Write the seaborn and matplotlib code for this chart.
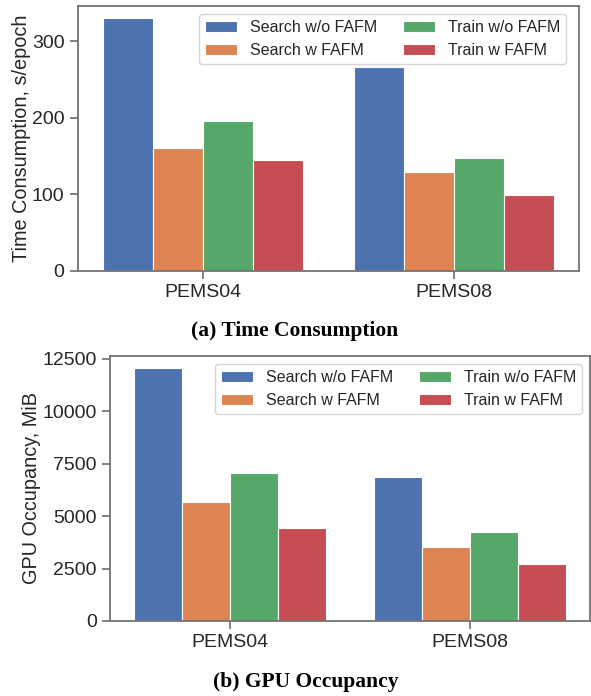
#!/usr/bin/env python3

import matplotlib.pyplot as plt
import matplotlib.ticker as ticker
import pandas as pd
import seaborn as sns

datasets = ["PEMS04", "PEMS08"]
methods = ["Search w/o FAFM", "Search w FAFM", "Train w/o FAFM", "Train w FAFM"]

# values per method, in dataset order
time_search_wo = [330, 267]
time_search_w = [161, 129]
time_train_wo = [196, 147]
time_train_w = [145, 99]

gpu_search_wo = [12050, 6850]
gpu_search_w = [5650, 3550]
gpu_train_wo = [7050, 4230]
gpu_train_w = [4420, 2720]


def long_frame(series: list[list[float]]) -> pd.DataFrame:
    rows = []
    for method, vals in zip(methods, series):
        for ds, v in zip(datasets, vals):
            rows.append({"dataset": ds, "method": method, "value": v})
    return pd.DataFrame(rows)


sns.set_theme(style="ticks", palette="deep")
plt.rcParams["font.family"] = ["Liberation Sans", "DejaVu Sans"]
plt.rcParams["axes.edgecolor"] = "0.45"
plt.rcParams["xtick.color"] = "0.45"
plt.rcParams["ytick.color"] = "0.45"
plt.rcParams["xtick.labelcolor"] = "0.15"
plt.rcParams["ytick.labelcolor"] = "0.15"
plt.rcParams["axes.linewidth"] = 1.3


def draw_panel(ax, df: pd.DataFrame, ylabel: str, step: float, legend_anchor) -> None:
    sns.barplot(
        ax=ax,
        data=df,
        x="dataset",
        y="value",
        hue="method",
        hue_order=methods,
        order=datasets,
        saturation=1,
        edgecolor="white",
        linewidth=0.8,
    )
    ax.set_xlabel("")
    ax.set_ylabel(ylabel, fontsize=14.3, labelpad=1)
    ax.yaxis.set_major_locator(ticker.MultipleLocator(step))
    ax.tick_params(labelsize=14)
    ax.legend(
        ncol=2,
        loc="upper right",
        bbox_to_anchor=legend_anchor,
        fontsize=11.5,
        frameon=True,
        columnspacing=1.6,
    )
    for side in ["top", "right", "left", "bottom"]:
        ax.spines[side].set_visible(True)


fig = plt.figure(figsize=(5.91, 6.96), dpi=100)

ax_time = fig.add_axes([0.1315, 0.6111, 0.8487, 0.3807])
draw_panel(
    ax_time,
    long_frame([time_search_wo, time_search_w, time_train_wo, time_train_w]),
    "Time Consumption, s/epoch",
    100,
    (0.99, 1.0),
)

ax_gpu = fig.add_axes([0.1861, 0.1078, 0.8127, 0.3812])
draw_panel(
    ax_gpu,
    long_frame([gpu_search_wo, gpu_search_w, gpu_train_wo, gpu_train_w]),
    "GPU Occupancy, MiB",
    2500,
    (1.0, 1.0),
)

caption = dict(
    fontsize=15.5,
    fontweight="bold",
    family=["Liberation Serif", "DejaVu Serif"],
    ha="center",
    va="center",
    color="black",
)
fig.text(295 / 591, 1 - 331.5 / 696, "(a) Time Consumption", **caption)
fig.text(306 / 591, 1 - 681.5 / 696, "(b) GPU Occupancy", **caption)

fig.savefig("out.png", dpi=100)
